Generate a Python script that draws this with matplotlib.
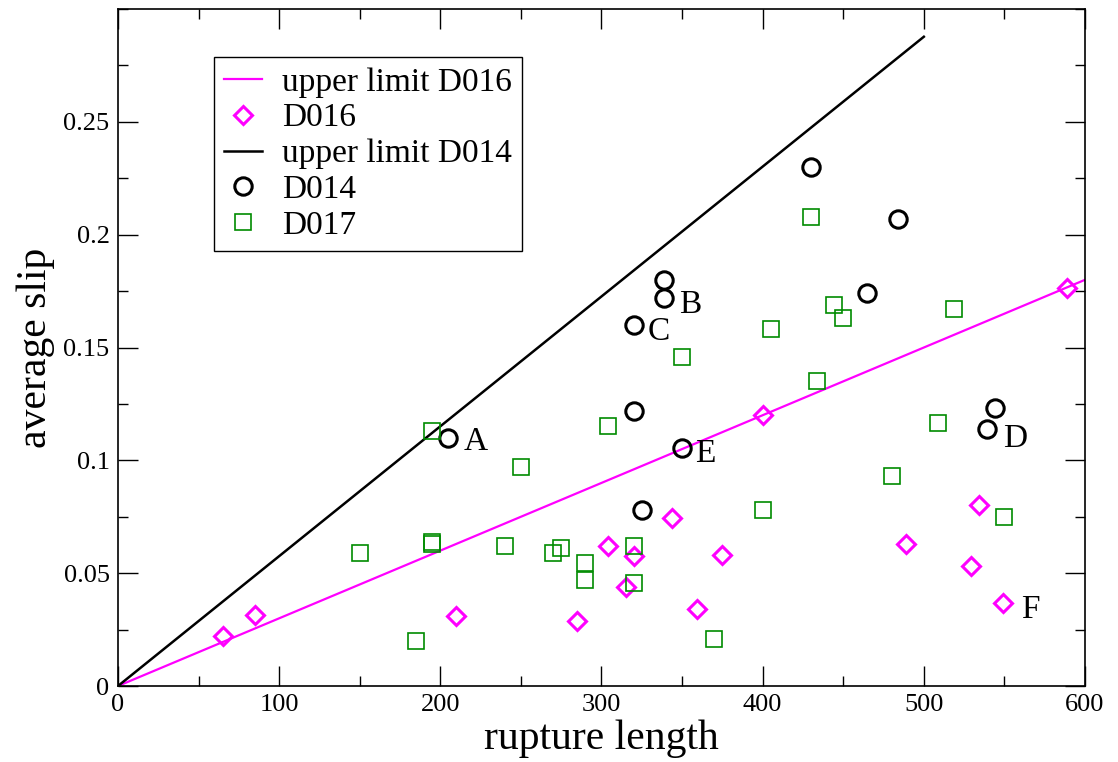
import numpy as np
import matplotlib
matplotlib.use('Agg')
import matplotlib.pyplot as plt
from matplotlib.ticker import MultipleLocator, FormatStrFormatter

plt.rcParams['font.family'] = ['Liberation Serif', 'DejaVu Serif']

# data
d016_x = [65, 85, 210, 285, 304, 315, 320, 344, 359, 375, 400, 489, 529, 534, 549, 589]
d016_y = [0.022, 0.0315, 0.031, 0.029, 0.062, 0.044, 0.0575, 0.0745, 0.034, 0.058,
          0.120, 0.063, 0.053, 0.080, 0.037, 0.1765]

d014_x = [205, 320, 320, 325, 339, 339, 350, 430, 465, 484, 539, 544]
d014_y = [0.110, 0.160, 0.122, 0.078, 0.180, 0.172, 0.1055, 0.230, 0.174, 0.207, 0.114, 0.123]

d017_x = [150, 185, 195, 195, 195, 240, 250, 270, 275, 290, 290, 304, 320, 320, 350,
          370, 400, 405, 430, 434, 444, 450, 480, 509, 519, 550]
d017_y = [0.059, 0.020, 0.113, 0.064, 0.063, 0.062, 0.097, 0.059, 0.061, 0.0545, 0.047,
          0.115, 0.062, 0.0457, 0.146, 0.021, 0.078, 0.158, 0.208, 0.135, 0.169, 0.163,
          0.093, 0.1165, 0.167, 0.075]

lim016_x = [0, 600]
lim016_y = [0, 0.18]
lim014_x = [0, 500]
lim014_y = [0, 0.2877]

# letter labels: (text, x, y of the point, offset in pixels)
labels = [('A', 205, 0.110, (15, -12)),
          ('B', 339, 0.172, (15, -15)),
          ('C', 320, 0.160, (14, -15)),
          ('D', 539, 0.114, (16, -18)),
          ('E', 350, 0.1055, (13, -14)),
          ('F', 549, 0.037, (18, -15))]

magenta = '#ff00ff'
green = '#008b00'

fig = plt.figure(figsize=(11.18, 7.62), dpi=100)
ax = fig.add_axes([0.1055, 0.0997, 0.8650, 0.8885])

ax.plot(lim016_x, lim016_y, color=magenta, lw=1.6, label='upper limit D016')
ax.plot(d016_x, d016_y, ls='none', marker='D', ms=9.5, mfc='none', mec=magenta,
        mew=2.2, label='D016')
ax.plot(lim014_x, lim014_y, color='black', lw=1.8, label='upper limit D014')
ax.plot(d014_x, d014_y, ls='none', marker='o', ms=12.5, mfc='none', mec='black',
        mew=2.2, label='D014')
ax.plot(d017_x, d017_y, ls='none', marker='s', ms=12, mfc='none', mec=green,
        mew=1.2, label='D017')

for txt, px, py, off in labels:
    ax.annotate(txt, (px, py), xytext=off, textcoords='offset pixels',
                fontsize=24, ha='left', va='baseline')

ax.set_xlim(0, 600)
ax.set_ylim(0, 0.3)
ax.xaxis.set_major_locator(MultipleLocator(100))
ax.xaxis.set_minor_locator(MultipleLocator(50))
ax.set_yticks([0, 0.05, 0.1, 0.15, 0.2, 0.25])
ax.yaxis.set_minor_locator(MultipleLocator(0.025))
ax.yaxis.set_major_formatter(FormatStrFormatter('%g'))
ax.tick_params(which='both', direction='in', top=True, right=True, width=1.0,
               labelsize=19, pad=6)
ax.tick_params(which='major', length=14.4)
ax.tick_params(which='minor', length=7.2)
for s in ax.spines.values():
    s.set_linewidth(1.2)

ax.set_xlabel('rupture length', fontsize=30, labelpad=2)
ax.set_ylabel('average slip', fontsize=30, labelpad=6)

leg = ax.legend(loc='upper left', bbox_to_anchor=(0.099, 0.929), borderaxespad=0,
                fontsize=24, numpoints=1, handlelength=1.15, handletextpad=0.6,
                labelspacing=0.16, borderpad=0.3, fancybox=False, framealpha=1,
                edgecolor='black')
leg.get_frame().set_linewidth(1.0)

plt.savefig('out.png', dpi=100)
